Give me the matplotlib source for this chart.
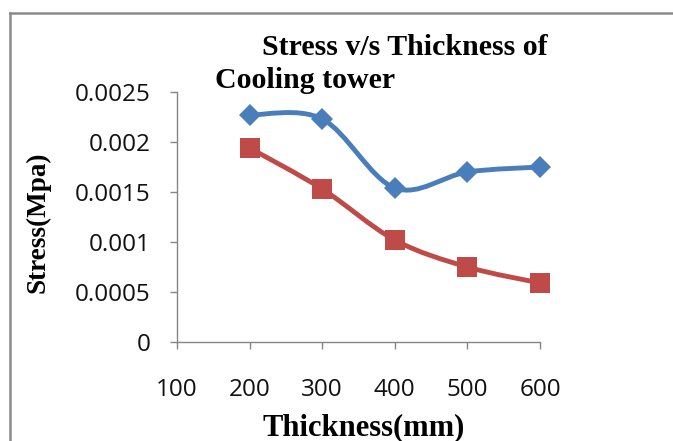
import numpy as np
import matplotlib.pyplot as plt
from matplotlib.path import Path
from matplotlib.patches import PathPatch
from matplotlib.lines import Line2D

# data
thickness = [200, 300, 400, 500, 600]
stress_blue = [0.00227, 0.00223, 0.00154, 0.00170, 0.00175]
stress_red = [0.00194, 0.00153, 0.00102, 0.00075, 0.00059]

xticks = [100, 200, 300, 400, 500, 600]
yticks = [0, 0.0005, 0.001, 0.0015, 0.002, 0.0025]
ytick_labels = ['0', '0.0005', '0.001', '0.0015', '0.002', '0.0025']


def smooth_path(x, y):
    # Excel-like smoothed line: bezier segments through the points
    pts = np.column_stack([x, y]).astype(float)
    n = len(pts)
    verts = [pts[0]]
    codes = [Path.MOVETO]
    for i in range(n - 1):
        p0 = pts[max(i - 1, 0)]
        p1 = pts[i]
        p2 = pts[i + 1]
        p3 = pts[min(i + 2, n - 1)]
        verts += [p1 + (p2 - p0) / 6, p2 - (p3 - p1) / 6, p2]
        codes += [Path.CURVE4] * 3
    return Path(verts, codes)


W, H = 673, 441
fig = plt.figure(figsize=(W / 100, H / 100), dpi=100)
ax = fig.add_axes([177 / W, 1 - 342 / H, 363 / W, 250 / H])

blue = '#4a7ebb'
red = '#be4b48'

for ys, col, mk, ms in [(stress_blue, blue, 'D', 11), (stress_red, red, 's', 14.5)]:
    ax.add_patch(PathPatch(smooth_path(thickness, ys), fill=False, edgecolor=col,
                           lw=3.5, capstyle='round', joinstyle='round', zorder=2))
    ax.plot(thickness, ys, linestyle='none', marker=mk, markersize=ms,
            color=col, markeredgewidth=0, zorder=3, clip_on=False)

ax.set_xlim(100, 600)
ax.set_ylim(0, 0.0025)
ax.set_xticks(xticks)
ax.set_yticks(yticks)
ax.set_yticklabels(ytick_labels)

for s in ['top', 'right']:
    ax.spines[s].set_visible(False)
for s in ['left', 'bottom']:
    ax.spines[s].set_color('#868686')
    ax.spines[s].set_linewidth(1)

ax.tick_params(axis='y', direction='out', length=5, width=1, color='#868686',
               pad=14, labelsize=17.5)
ax.tick_params(axis='x', direction='out', length=5, width=1, color='#868686',
               pad=21, labelsize=17.5)
for lab in ax.get_xticklabels() + ax.get_yticklabels():
    lab.set_family('Open Sans')
    lab.set_color('#111111')

serif = 'Liberation Serif'
fig.text(262 / W, 1 - 55 / H, 'Stress v/s Thickness of', family=serif,
         weight='bold', fontsize=21.5, ha='left', va='baseline')
fig.text(215 / W, 1 - 88 / H, 'Cooling tower', family=serif,
         weight='bold', fontsize=21.5, ha='left', va='baseline')
fig.text(364 / W, 1 - 428 / H, 'Thickness(mm)', family=serif,
         weight='bold', fontsize=22, ha='center', va='center')
fig.text(38 / W, 1 - 222 / H, 'Stress(Mpa)', family=serif, weight='bold',
         fontsize=19.5, rotation=90, ha='center', va='center')

# outer chart border (top and left edges visible)
fig.add_artist(Line2D([10 / W, 1], [1 - 13 / H, 1 - 13 / H],
                      transform=fig.transFigure, color='#8a8a8a', lw=1.8))
fig.add_artist(Line2D([10 / W, 10 / W], [0, 1 - 13 / H],
                      transform=fig.transFigure, color='#8a8a8a', lw=1.8))

fig.savefig('out.png', dpi=100)
